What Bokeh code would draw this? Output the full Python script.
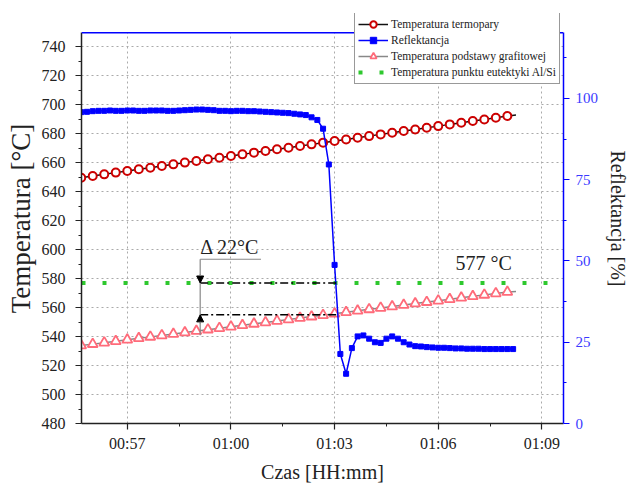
from bokeh.plotting import figure
from bokeh.models import (Range1d, LinearAxis, FixedTicker, Legend, LegendItem,
                          Arrow, NormalHead, Span, BoxAnnotation)
from bokeh.core.properties import value
from bokeh.embed import file_html
from bokeh.resources import INLINE

FONT = "Liberation Serif"

# ---- data (time in minutes) ----
t_start = 55 + 40 / 60
t_coarse = [t_start + i * 20 / 60 for i in range(38)]   # 20 s samples
t_fine = [t_start + i * 10 / 60 for i in range(76)]     # 10 s samples
t_end = 68.25

termopara = [649.7, 650.9, 652.0, 653.2, 654.3, 655.5, 656.6, 657.8, 658.9, 660.1,
             661.2, 662.4, 663.5, 664.7, 665.8, 667.0, 668.1, 669.3, 670.4, 671.6,
             672.7, 673.9, 675.0, 676.1, 677.3, 678.4, 679.6, 680.7, 681.9, 683.0,
             684.2, 685.3, 686.5, 687.6, 688.8, 689.9, 691.1, 692.3]
termopara_end = 692.9

podstawa = [533.8, 534.8, 535.8, 536.8, 537.8, 538.8, 539.8, 540.8, 541.8, 542.8,
            543.8, 544.8, 545.8, 546.8, 547.8, 548.8, 549.8, 550.8, 551.8, 552.8,
            553.8, 554.8, 555.8, 556.8, 557.8, 558.8, 559.8, 560.8, 561.8, 562.8,
            563.8, 564.8, 565.8, 566.8, 567.8, 568.8, 569.8, 570.8]
podstawa_end = 571.2

reflektancja = [95.8, 95.9,
                96.1, 96.2, 96.2, 96.3, 96.2, 96.2, 96.3, 96.3, 96.2, 96.2, 96.3, 96.3,
                96.3, 96.2, 96.2, 96.3, 96.4,
                96.5, 96.6, 96.6, 96.5, 96.4,
                96.2, 96.2, 96.1, 96.2, 96.2, 96.1, 96.1,
                96.0, 95.9, 95.8, 95.7, 95.6,
                95.5, 95.3, 95.1, 94.9, 94.2, 93.4, 90.7, 79.7, 48.8, 21.4,
                15.3, 23.2, 26.8, 27.1, 26.1, 25.0, 24.8, 26.1, 26.8, 26.1,
                25.0, 24.3, 23.8, 23.7,
                23.5, 23.4, 23.3, 23.3, 23.2, 23.1, 23.1, 23.0, 23.0, 23.0,
                22.9, 22.9, 22.9, 22.9, 22.9, 22.9]

eutektyka = 577

x_ticks = [57, 60, 63, 66, 69]
x_tick_labels = ["00:57", "01:00", "01:03", "01:06", "01:09"]
x_minor = [55.5, 58.5, 61.5, 64.5, 67.5]
y_ticks = list(range(480, 741, 20))
y_minor = list(range(490, 750, 10))
r_ticks = [0, 25, 50, 75, 100]
r_minor = [12.5, 37.5, 62.5, 87.5, 112.5]

# axis extents (plot box) and the room kept above it for the legend
T_MIN, T_MAX = 480, 749.7
R_MIN, R_MAX = 0, 120.2
T_VIEW_MAX, R_VIEW_MAX = 763.05, 126.15

# annotation (data units)
delta_x0, delta_x1 = 59.11, 63.05
delta_hi, delta_lo = 577, 555
bracket_top, bracket_bottom, bracket_right = 593.4, 541.0, 60.87
delta_text = "Δ 22°C"
eut_text = "577 °C"
eut_text_x, eut_text_y = 66.5, 583.5

# ---- figure ----
p = figure(width=632, height=486,
           x_range=Range1d(55.675, 69.625), y_range=Range1d(T_MIN, T_VIEW_MAX),
           output_backend="svg", toolbar_location=None,
           min_border_left=81, min_border_right=67, min_border_top=13,
           min_border_bottom=63)
p.outline_line_color = None
p.background_fill_color = "white"

p.extra_y_ranges = {"refl": Range1d(R_MIN, R_VIEW_MAX)}

# axes
xa = p.xaxis[0]
xa.ticker = FixedTicker(ticks=x_ticks, minor_ticks=x_minor)
xa.major_label_overrides = {t: l for t, l in zip(x_ticks, x_tick_labels)}
ya = p.yaxis[0]
ya.ticker = FixedTicker(ticks=y_ticks, minor_ticks=y_minor)
ya.bounds = (T_MIN, T_MAX)

for ax in (xa, ya):
    ax.axis_line_color = "#222222"
    ax.axis_line_width = 1.5
    ax.major_tick_line_color = "#222222"
    ax.minor_tick_line_color = "#222222"
    ax.major_tick_line_width = 1.2
    ax.major_tick_in = 0
    ax.major_tick_out = 6
    ax.minor_tick_in = 0
    ax.minor_tick_out = 3
    ax.major_label_text_font = FONT
    ax.major_label_text_font_size = "16px"
    ax.major_label_text_color = "#222222"
    ax.axis_label_text_font = FONT
    ax.axis_label_text_font_size = "20px"
    ax.axis_label_text_font_style = "normal"
    ax.axis_label_text_color = "#222222"

xa.major_label_standoff = 5
xa.axis_label = "Czas [HH:mm]"
xa.axis_label_standoff = 6
ya.major_label_standoff = 10
ya.axis_label = "Temperatura [°C]"
ya.axis_label_standoff = 3
ya.axis_label_text_font_size = "27px"

ra = LinearAxis(y_range_name="refl", ticker=FixedTicker(ticks=r_ticks, minor_ticks=r_minor),
                axis_label="Reflektancja [%]", bounds=(R_MIN, R_MAX))
ra.axis_line_color = "#0000ff"
ra.axis_line_width = 1.5
ra.major_tick_line_color = "#0000ff"
ra.minor_tick_line_color = "#0000ff"
ra.major_tick_in = 0
ra.major_tick_out = 6
ra.minor_tick_in = 0
ra.minor_tick_out = 3
ra.major_label_text_font = FONT
ra.major_label_text_font_size = "15px"
ra.major_label_text_color = "#3a3aff"
ra.major_label_standoff = 6
ra.axis_label_text_font = FONT
ra.axis_label_text_font_size = "20px"
ra.axis_label_text_font_style = "normal"
ra.axis_label_text_color = "#222222"
ra.axis_label_standoff = 6
p.add_layout(ra, "right")

# grid
p.xgrid.ticker = FixedTicker(ticks=x_ticks)
p.ygrid.ticker = FixedTicker(ticks=y_ticks)
for g in (p.xgrid, p.ygrid):
    g.grid_line_color = "#aaaaaa"
    g.grid_line_dash = "2 3"
    g.grid_line_width = 1

# ---- series ----
x0, x1 = p.x_range.start, p.x_range.end
g_r = p.line([x0, x1], [eutektyka, eutektyka], line_color="#2ec82e", line_width=4,
             line_dash="4 17")

pod_line = p.line(t_coarse + [t_end], podstawa + [podstawa_end], line_color="#888888",
                  line_width=1.5)
pod_mark = p.scatter(t_coarse, podstawa, marker="triangle", size=10, line_color="#ff6b7a",
                     line_width=1.8, fill_color="white")

ter_line = p.line(t_coarse + [t_end], termopara + [termopara_end], line_color="#111111",
                  line_width=1.5)
ter_mark = p.scatter(t_coarse, termopara, marker="circle", size=8, line_color="#cc0000",
                     line_width=2, fill_color="white")

ref_line = p.line(t_fine, reflektancja, y_range_name="refl", line_color="#0000ff",
                  line_width=1.5)
ref_mark = p.scatter(t_fine, reflektancja, y_range_name="refl", marker="square", size=5,
                     line_color="#0000ff", fill_color="#0000ff")

# ---- annotation ----
p.line([delta_x0, delta_x1], [delta_hi, delta_hi], line_color="black", line_width=1.5,
       line_dash="8 3 2 3")
p.line([delta_x0, delta_x1], [delta_lo, delta_lo], line_color="black", line_width=1.5,
       line_dash="8 3 2 3")
p.line([delta_x0, delta_x0], [bracket_bottom, bracket_top], line_color="#888888",
       line_width=1.2)
p.line([delta_x0, bracket_right], [bracket_top, bracket_top], line_color="#888888",
       line_width=1.2)
p.add_layout(Arrow(end=NormalHead(size=7, fill_color="black", line_color="black"),
                   x_start=delta_x0, y_start=delta_hi + 6, x_end=delta_x0, y_end=delta_hi,
                   line_color="#888888", line_width=1.2))
p.add_layout(Arrow(end=NormalHead(size=7, fill_color="black", line_color="black"),
                   x_start=delta_x0, y_start=delta_lo - 6, x_end=delta_x0, y_end=delta_lo,
                   line_color="#888888", line_width=1.2))
p.text(x=[delta_x0], y=[bracket_top + 1], text=[delta_text], text_font=value(FONT),
       text_font_size="20px", text_baseline="bottom", text_align="left",
       text_color="#222222")
p.text(x=[eut_text_x], y=[eut_text_y], text=[eut_text], text_font=value(FONT),
       text_font_size="20px", text_baseline="bottom", text_align="left",
       text_color="#222222")

# blank strip above the plot box (room for the legend) and the blue top border
p.add_layout(BoxAnnotation(bottom=T_MAX, fill_color="white", fill_alpha=1,
                           line_color=None))
p.add_layout(Span(location=T_MAX, dimension="width", line_color="#0000ff",
                  line_width=1.5))

# ---- legend ----
legend = Legend(items=[
    LegendItem(label="Temperatura termopary", renderers=[ter_line, ter_mark]),
    LegendItem(label="Reflektancja", renderers=[ref_line, ref_mark]),
    LegendItem(label="Temperatura podstawy grafitowej", renderers=[pod_line, pod_mark]),
    LegendItem(label="Temperatura punktu eutektyki Al/Si", renderers=[g_r]),
], location=(273, 339))
legend.label_text_font = FONT
legend.label_text_font_size = "11.5px"
legend.label_text_color = "#222222"
legend.glyph_width = 30
legend.glyph_height = 16
legend.label_height = 16
legend.spacing = 0
legend.padding = 3
legend.margin = 0
legend.label_standoff = 3
legend.border_line_color = "#333333"
legend.border_line_width = 1.5
legend.background_fill_alpha = 1
p.add_layout(legend, "center")

open("out.html", "w").write(file_html(p, INLINE))
